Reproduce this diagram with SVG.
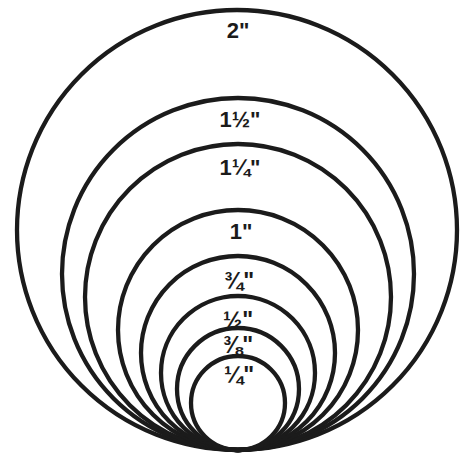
<svg xmlns="http://www.w3.org/2000/svg" width="465" height="464" viewBox="0 0 465 464">
<style>
.c{fill:none;stroke:#1b1b1b;stroke-width:4.3}
.t{font-family:"Liberation Sans",Arial,sans-serif;font-weight:bold;fill:#1b1b1b;text-anchor:middle}
.f{font-size:23px}
</style>
<rect width="465" height="464" fill="#ffffff"/>
<g id="pipe-2">
<circle class="c" cx="237" cy="230" r="220"/>
<text class="t" x="238" y="38" font-size="22">2"</text>
</g>
<g id="pipe-1-1-2">
<circle class="c" cx="238" cy="274" r="176"/>
<text class="t" x="240" y="127" font-size="22">1½"</text>
</g>
<g id="pipe-1-1-4">
<circle class="c" cx="238" cy="297" r="153"/>
<text class="t" x="240" y="175" font-size="22">1¼"</text>
</g>
<g id="pipe-1">
<circle class="c" cx="238" cy="330" r="120"/>
<text class="t" x="241" y="239" font-size="22">1"</text>
</g>
<g id="pipe-3-4">
<circle class="c" cx="238" cy="353" r="97"/>
<text class="t f" x="239" y="289">¾"</text>
</g>
<g id="pipe-1-2">
<circle class="c" cx="238" cy="373" r="77"/>
<text class="t f" x="238" y="328">½"</text>
</g>
<g id="pipe-3-8">
<circle class="c" cx="238" cy="389" r="61"/>
<text class="t f" x="238" y="353">⅜"</text>
</g>
<g id="pipe-1-4">
<circle class="c" cx="238" cy="403" r="47"/>
<text class="t f" x="239" y="383">¼"</text>
</g>
</svg>
